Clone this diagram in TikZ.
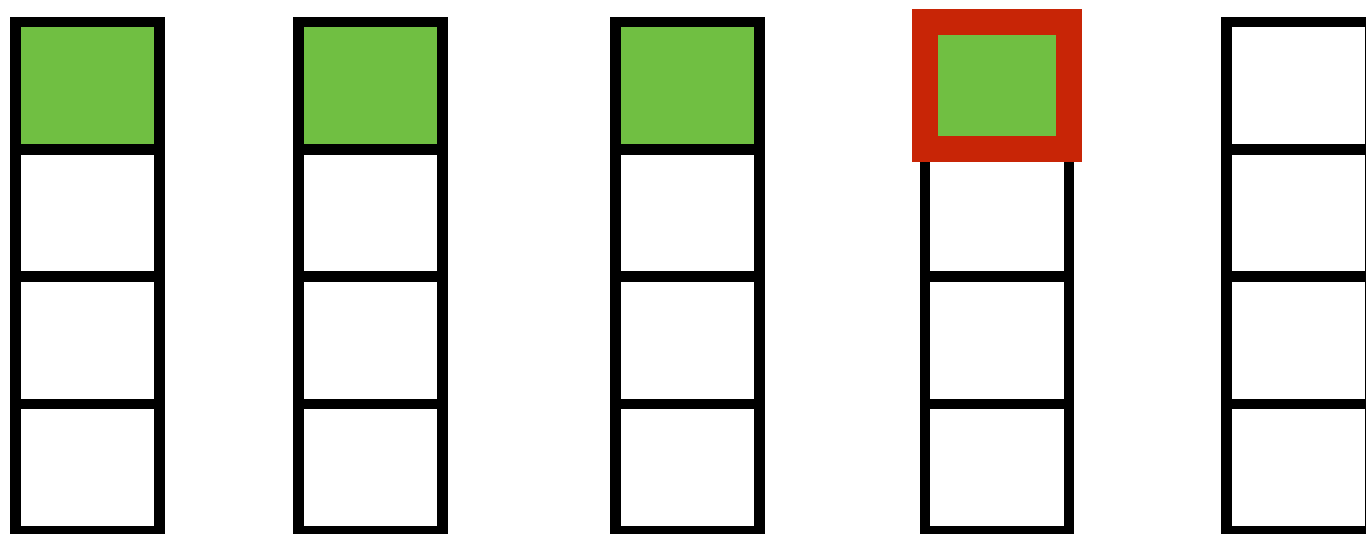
\documentclass[tikz,border=0pt]{standalone}
\definecolor{cellgreen}{RGB}{112,191,66}
\definecolor{markred}{RGB}{200,37,6}
\tikzset{
  cell/.style={draw=black, line width=10.7pt, rectangle, minimum width=144pt, minimum height=127.3pt, inner sep=0pt, outer sep=0pt, fill=white},
  full/.style={cell, fill=cellgreen},
  redcell/.style={draw=markred, line width=26pt, rectangle, minimum width=144pt, minimum height=127.3pt, inner sep=0pt, outer sep=0pt, fill=cellgreen}
}
\begin{document}
\begin{tikzpicture}[x=1pt,y=1pt]
\useasboundingbox (0,0) rectangle (1366,-534);
\clip (0,0) rectangle (1366,-534);
\fill[white] (0,0) rectangle (1366,-534);
% columns
\foreach \cx/\nm in {87.7/a,370.3/b,687.7/c,997.1/d,1298.3/e}{
  \node[cell] (\nm4) at (\cx,-467.6) {};
  \node[cell] (\nm3) at (\cx,-340.3) {};
  \node[cell] (\nm2) at (\cx,-213) {};
}
\node[full] (a1) at (87.7,-85.7) {};
\node[full] (b1) at (370.3,-85.7) {};
\node[full] (c1) at (687.7,-85.7) {};
\node[cell] (e1) at (1298.3,-85.7) {};
\node[redcell] (d1) at (997.1,-85.7) {};
\end{tikzpicture}
\end{document}
